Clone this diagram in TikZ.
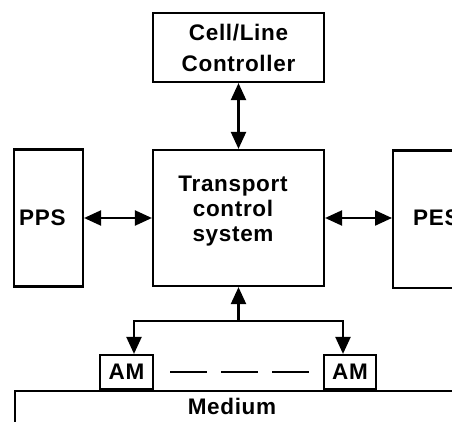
\documentclass[tikz,border=0pt]{standalone}
\usepackage{fontspec}
\setmainfont{Liberation Sans}[LetterSpace=3]
\usetikzlibrary{arrows.meta,calc}
\begin{document}
\begin{tikzpicture}[x=1pt,y=-1pt,
  box/.style={draw, line width=2.2pt, inner sep=0pt},
  lbl/.style={font=\bfseries\fontsize{22.5}{25}\selectfont, align=center, inner sep=0pt},
  tip/.style={-{Triangle[length=17pt,width=15pt]}},
  wire/.style={line width=2.2pt},
  both/.style={wire, {Triangle[length=17pt,width=15pt]}-{Triangle[length=17pt,width=15pt]}}
]
\useasboundingbox (0,0) rectangle (452,422);
\clip (0,0) rectangle (452,422);

% controller on top
\node[box, lbl, font=\bfseries\fontsize{22.5}{31}\selectfont, minimum width=171pt, minimum height=69pt] (ctrl) at (238.5,47.5) {Cell/Line\\Controller};

% central transport control system
\node[box, minimum width=171pt, minimum height=136pt] (tcs) at (238.5,218) {};
\node[lbl] (tcstext) at (233,211) {Transport\\control\\system};

% side stations
\node[box, minimum width=69pt, minimum height=137pt] (pps) at (48.5,218) {};
\node[lbl, anchor=west] (ppstext) at (19,218) {PPS};
\node[box, minimum width=100pt, minimum height=137pt, anchor=north west] (pes) at (392,149.5) {};
\node[lbl, anchor=west] (pestext) at (413,218) {PES};

% access modules on the medium
\node[box, minimum width=500pt, minimum height=60pt, anchor=north west] (medium) at (14,390) {};
\node[lbl] (mediumtext) at (232,406) {Medium};
\node[box, lbl, fill=white, minimum width=53pt, minimum height=34pt] (am1) at (126.5,372) {AM};
\node[box, lbl, fill=white, minimum width=52pt, minimum height=34pt] (am2) at (350,372) {AM};

% connections
\draw[both] (ctrl.south) -- (tcs.north);
\draw[both] (pps.east) -- (tcs.west);
\draw[both] (tcs.east) -- (pes.west |- tcs.east);

\coordinate (br) at (238.5,321);
\draw[wire, tip] (br) -- (tcs.south);
\draw[both, line join=miter] ([xshift=7.5pt]am1.north) |- (br) -| ([xshift=-7pt]am2.north);

\draw[wire, dash pattern=on 37pt off 14pt] ([xshift=16pt]am1.east) -- ([xshift=-14pt]am2.west);
\end{tikzpicture}
\end{document}
